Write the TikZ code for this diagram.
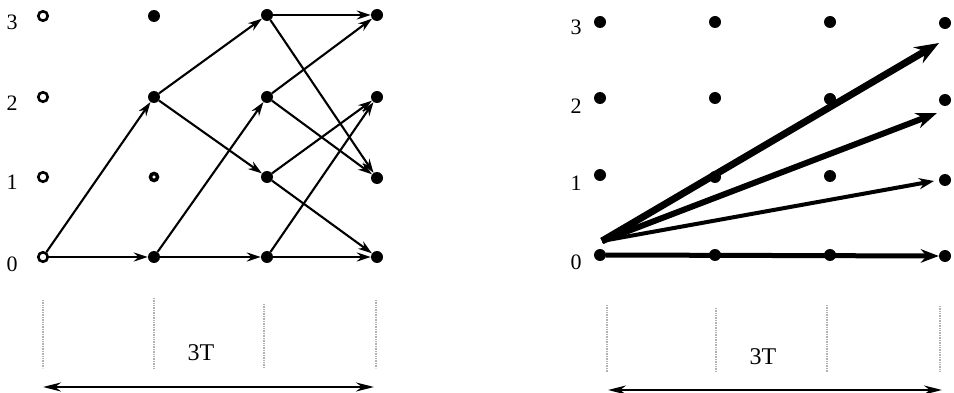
\documentclass[tikz,border=0pt]{standalone}
\usepackage{fontspec}
\setmainfont{Liberation Serif}
\usepackage{tikz}
\usetikzlibrary{arrows.meta}

\begin{document}
\begin{tikzpicture}[x=1pt,y=1pt,yscale=-1,xscale=1,
  dot/.style={circle,fill=black,inner sep=0pt,minimum size=12pt},
  hole/.style={circle,draw=black,line width=2.6pt,fill=white,inner sep=0pt,minimum size=9.5pt},
  link/.style={line width=2.1pt,-{Stealth[length=14pt,width=9pt]}},
  ray/.style={line width=#1,-{Stealth[length=3*#1+3pt,width=2.3*#1+2pt]}},
  tick/.style={gray!90!black,line width=0.7pt,densely dotted,double=gray!60,double distance=1.2pt},
  span/.style={line width=2.2pt,{Stealth[length=18pt,width=9pt]}-{Stealth[length=18pt,width=9pt]}},
  lab/.style={inner sep=0pt,font=\fontsize{22}{22}\selectfont}]
\useasboundingbox (0,0) rectangle (954,393);

% Left trellis: levels
\node[lab] (la3) at (12,22) {3};
\node[lab] (la2) at (12,103) {2};
\node[lab] (la1) at (12,182) {1};
\node[lab] (la0) at (12,264) {0};

% Left trellis: states
\node[hole] (L03) at (43,16) {};
\node[hole] (L02) at (43,97) {};
\node[hole] (L01) at (43,177) {};
\node[hole] (L00) at (43,257) {};
\node[dot] (L13) at (154,16) {};
\node[dot] (L12) at (154,97) {};
\node[hole,line width=3.5pt,minimum size=7pt] (L11) at (154,177) {};
\node[dot] (L10) at (154,257) {};
\node[dot] (L23) at (267,15) {};
\node[dot] (L22) at (267,97) {};
\node[dot] (L21) at (267,177) {};
\node[dot] (L20) at (267,257) {};
\node[dot] (L33) at (377,15) {};
\node[dot] (L32) at (377,97) {};
\node[dot] (L31) at (377,178) {};
\node[dot] (L30) at (377,257) {};

% Left trellis: transitions
\draw[link] (L00) -- (L10);
\draw[link] (L00) -- (L12);
\draw[link] (L12) -- (L23);
\draw[link] (L12) -- (L21);
\draw[link] (L10) -- (L22);
\draw[link] (L10) -- (L20);
\draw[link] (L23) -- (L33);
\draw[link] (L23) -- (L31);
\draw[link] (L22) -- (L33);
\draw[link] (L22) -- (L31);
\draw[link] (L21) -- (L32);
\draw[link] (L21) -- (L30);
\draw[link] (L20) -- (L30);
\draw[link] (L20) -- (L32);

% Left time axis
\draw[tick] (43,300) -- (43,368);
\draw[tick] (154,298) -- (154,368);
\draw[tick] (264,304) -- (264,368);
\draw[tick] (376,300) -- (376,368);
\node[lab,font=\fontsize{24}{24}\selectfont] (lt) at (201,353) {3T};
\coordinate (lA) at (43,387);
\coordinate (lB) at (374,387);
\draw[span] (lA) -- (lB);

% Right trellis: levels
\node[lab] (ra3) at (576,27) {3};
\node[lab] (ra2) at (576,106) {2};
\node[lab] (ra1) at (576,183) {1};
\node[lab] (ra0) at (576,262) {0};

% Right trellis: states
\node[dot] (R03) at (600,22) {};
\node[dot] (R02) at (600,98) {};
\node[dot] (R01) at (600,175) {};
\node[dot] (R00) at (600,255) {};
\node[dot] (R13) at (715,22) {};
\node[dot] (R12) at (715,98) {};
\node[dot] (R11) at (715,177) {};
\node[dot] (R10) at (715,255) {};
\node[dot] (R23) at (830,22) {};
\node[dot] (R22) at (830,99) {};
\node[dot] (R21) at (830,176) {};
\node[dot] (R20) at (830,255) {};
\node[dot] (R33) at (945,23) {};
\node[dot] (R32) at (945,100) {};
\node[dot] (R31) at (945,180) {};
\node[dot] (R30) at (945,256) {};

% Right trellis: direct jumps
\coordinate (src) at (602,241);
\coordinate (tip3) at (939,43);
\coordinate (tip2) at (937,113);
\coordinate (tip1) at (934,181);
\draw[ray=7pt] (src) -- (tip3);
\draw[ray=6pt] (src) -- (tip2);
\draw[ray=4pt] (src) -- (tip1);
\draw[ray=5pt] (R00.east) -- (R30.west);

% Right time axis
\draw[tick] (607,305) -- (607,372);
\draw[tick] (716,308) -- (716,372);
\draw[tick] (827,305) -- (827,372);
\draw[tick] (940,306) -- (940,372);
\node[lab,font=\fontsize{24}{24}\selectfont] (rt) at (763,357) {3T};
\coordinate (rA) at (608,390);
\coordinate (rB) at (942,390);
\draw[span] (rA) -- (rB);

\end{tikzpicture}
\end{document}
